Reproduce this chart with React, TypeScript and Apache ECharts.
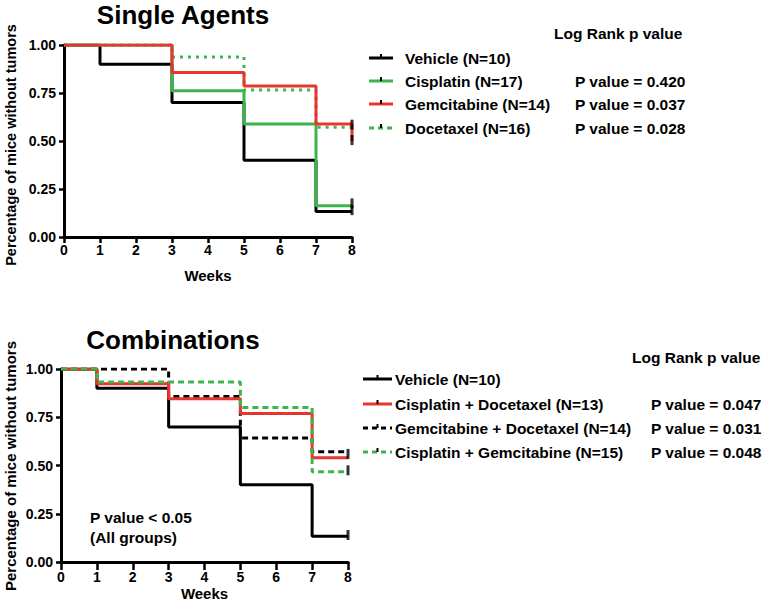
import React, { useEffect, useRef } from "react";
import * as echarts from "echarts";

// ---------- data ----------
const weekTicks = [0, 1, 2, 3, 4, 5, 6, 7, 8];

// Single agents
const vehicleT = [0, 1, 3, 5, 7, 8];
const vehicleS = [1, 0.9, 0.7, 0.4, 0.133, 0.133];
const cisT = [0, 3, 5, 7, 8];
const cisS = [1, 0.762, 0.589, 0.163, 0.163];
const gemT = [0, 3, 5, 7, 8];
const gemS = [1, 0.857, 0.786, 0.589, 0.5];
const docT = [0, 3, 5, 7, 8];
const docS = [1, 0.9375, 0.766, 0.571, 0.571];
const topCensorX = [8, 8, 8, 8];
const topCensorY = [0.14, 0.175, 0.585, 0.505];

// Combinations
const vehicle2T = [0, 1, 3, 5, 7, 8];
const vehicle2S = [1, 0.9, 0.7, 0.4, 0.133, 0.133];
const cdT = [0, 1, 3, 5, 7, 8];
const cdS = [1, 0.923, 0.846, 0.77, 0.54, 0.54];
const gdT = [0, 3, 5, 7, 8];
const gdS = [1, 0.857, 0.643, 0.571, 0.571];
const cgT = [0, 1, 5, 7, 8];
const cgS = [1, 0.933, 0.8, 0.467, 0.467];
const botCensorX = [8, 8, 8];
const botCensorY = [0.14, 0.56, 0.475];

const topLegend = ["Vehicle (N=10)", "Cisplatin (N=17)", "Gemcitabine (N=14)", "Docetaxel (N=16)"];
const topP = ["", "P value = 0.420", "P value = 0.037", "P value = 0.028"];
const botLegend = [
  "Vehicle (N=10)",
  "Cisplatin + Docetaxel (N=13)",
  "Gemcitabine + Docetaxel (N=14)",
  "Cisplatin + Gemcitabine (N=15)",
];
const botP = ["", "P value = 0.047", "P value = 0.031", "P value = 0.048"];
const yAxisTitle = "Percentage of mice without tumors";

// ---------- styles ----------
const BLACK = "#000000";
const GREEN = "#3DB54A";
const RED = "#E8352F";
const FONT = '"Liberation Sans", Arial, Helvetica, sans-serif';

const topStyles = [
  { color: BLACK, type: "solid" as any },
  { color: GREEN, type: "solid" as any },
  { color: RED, type: "solid" as any },
  { color: GREEN, type: [3, 5] as any },
];
const botStyles = [
  { color: BLACK, type: "solid" as any },
  { color: RED, type: "solid" as any },
  { color: BLACK, type: [6, 4] as any },
  { color: GREEN, type: [6, 4] as any },
];

const zip = (t: number[], s: number[]) => t.map((x, i) => [x, s[i]]);

export default function App() {
  const ref = useRef<HTMLDivElement>(null);
  useEffect(() => {
    if (!ref.current) return;
    const chart = echarts.init(ref.current, undefined, { renderer: "svg" });

    const xAxisBase = (gridIndex: number, tickLen: number, margin: number, nameGap: number) => ({
      type: "value",
      gridIndex,
      min: 0,
      max: 8,
      interval: 1,
      name: "Weeks",
      nameLocation: "middle",
      nameGap,
      nameTextStyle: { fontFamily: FONT, fontWeight: "bold", fontSize: 15, color: BLACK },
      axisLine: { show: true, lineStyle: { color: BLACK, width: 3 } },
      axisTick: { show: true, length: tickLen, lineStyle: { color: BLACK, width: 2.5 } },
      axisLabel: {
        margin,
        fontFamily: FONT,
        fontWeight: "bold",
        fontSize: 14,
        color: BLACK,
        formatter: (v: number) => (weekTicks.includes(v) ? String(v) : ""),
      },
      splitLine: { show: false },
    });
    const yAxisBase = (gridIndex: number) => ({
      type: "value",
      gridIndex,
      min: 0,
      max: 1,
      interval: 0.25,
      axisLine: { show: true, lineStyle: { color: BLACK, width: 3 } },
      axisTick: { show: true, length: 5, lineStyle: { color: BLACK, width: 2.5 } },
      axisLabel: {
        margin: 8,
        fontFamily: FONT,
        fontWeight: "bold",
        fontSize: 14,
        color: BLACK,
        formatter: (v: number) => v.toFixed(2),
      },
      splitLine: { show: false },
    });

    const stepSeries = (name: string, t: number[], s: number[], st: any, idx: number, z: number) => ({
      name,
      type: "line",
      step: "end",
      xAxisIndex: idx,
      yAxisIndex: idx,
      data: zip(t, s),
      symbol: "none",
      lineStyle: { color: st.color, width: 3, type: st.type },
      z,
      silent: true,
    });
    const censor = (xs: number[], ys: number[], idx: number) => ({
      type: "scatter",
      xAxisIndex: idx,
      yAxisIndex: idx,
      data: zip(xs, ys),
      symbol: "rect",
      symbolSize: [3, 10],
      itemStyle: { color: BLACK },
      z: 10,
      silent: true,
    });

    const textEl = (text: string, x: number, y: number, size: number, align = "left", rotation = 0) => ({
      type: "text",
      x,
      y,
      rotation,
      style: {
        text,
        fontFamily: FONT,
        fontWeight: "bold",
        fontSize: size,
        fill: BLACK,
        align,
        verticalAlign: "middle",
      },
      silent: true,
    });

    const legendEls = (
      labels: string[],
      styles: any[],
      x1: number,
      x2: number,
      tx: number,
      ys: number[]
    ) => {
      const els: any[] = [];
      labels.forEach((lab, i) => {
        const st = styles[i];
        els.push({
          type: "line",
          shape: { x1, y1: ys[i], x2, y2: ys[i] },
          style: {
            stroke: st.color,
            lineWidth: 3,
            lineDash: st.type === "solid" ? null : [5, 4],
          },
          silent: true,
        });
        const mx = (x1 + x2) / 2;
        els.push({
          type: "line",
          shape: { x1: mx, y1: ys[i] - 4, x2: mx, y2: ys[i] },
          style: { stroke: BLACK, lineWidth: 2 },
          silent: true,
        });
        els.push(textEl(lab, tx, ys[i], 15.5));
      });
      return els;
    };

    const topRows = [58, 81, 104, 128];
    const botRows = [379, 404, 428, 452];

    const graphic: any[] = [
      textEl("Single Agents", 183, 15, 26, "center"),
      textEl("Combinations", 173, 340, 26, "center"),
      textEl(yAxisTitle, 11, 145, 14.5, "center", Math.PI / 2),
      textEl(yAxisTitle, 10, 466, 15, "center", Math.PI / 2),
      textEl("Log Rank p value", 554, 33, 15.5),
      textEl("Log Rank p value", 632, 357, 15.5),
      ...legendEls(topLegend, topStyles, 369, 393, 405, topRows),
      ...legendEls(botLegend, botStyles, 363, 392, 395, botRows),
      ...topP.filter((p) => p).map((p, i) => textEl(p, 575, topRows[i + 1], 15.5)),
      ...botP.filter((p) => p).map((p, i) => textEl(p, 651, botRows[i + 1], 15.5)),
      textEl("P value < 0.05", 90, 517, 15.5),
      textEl("(All groups)", 90, 537, 15.5),
    ];

    chart.setOption({
      animation: false,
      backgroundColor: "#ffffff",
      grid: [
        { left: 64, top: 45, width: 288, height: 192, containLabel: false },
        { left: 61, top: 369, width: 287, height: 193, containLabel: false },
      ],
      xAxis: [xAxisBase(0, 6, 6, 31), xAxisBase(1, 8, 8, 24)],
      yAxis: [yAxisBase(0), yAxisBase(1)],
      series: [
        stepSeries(topLegend[0], vehicleT, vehicleS, topStyles[0], 0, 2),
        stepSeries(topLegend[1], cisT, cisS, topStyles[1], 0, 3),
        stepSeries(topLegend[3], docT, docS, topStyles[3], 0, 4),
        stepSeries(topLegend[2], gemT, gemS, topStyles[2], 0, 5),
        censor(topCensorX, topCensorY, 0),
        stepSeries(botLegend[0], vehicle2T, vehicle2S, botStyles[0], 1, 2),
        stepSeries(botLegend[2], gdT, gdS, botStyles[2], 1, 3),
        stepSeries(botLegend[1], cdT, cdS, botStyles[1], 1, 4),
        stepSeries(botLegend[3], cgT, cgS, botStyles[3], 1, 5),
        censor(botCensorX, botCensorY, 1),
      ],
      graphic,
    } as any);

    return () => chart.dispose();
  }, []);

  return (
    <div
      ref={ref}
      style={{ width: 779, height: 604, position: "absolute", left: 0, top: 0, background: "#fff" }}
    />
  );
}
